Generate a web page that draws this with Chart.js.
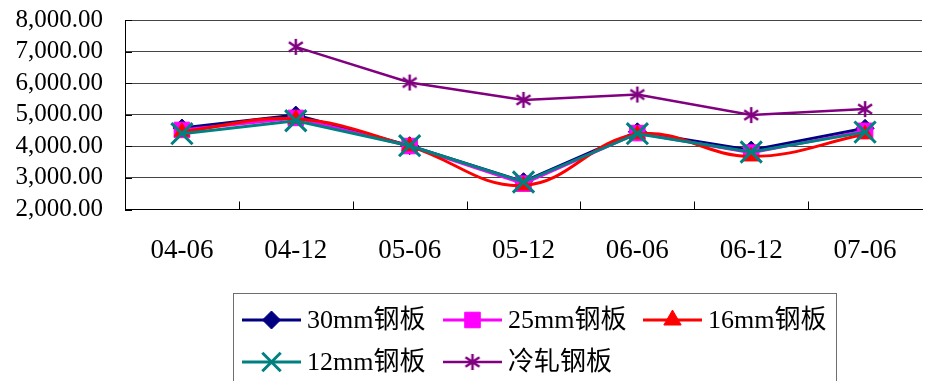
<!DOCTYPE html>
<html>
<head>
<meta charset="utf-8">
<script src="https://cdn.jsdelivr.net/npm/chart.js@4/dist/chart.umd.min.js"></script>
<style>
  html, body { margin: 0; padding: 0; background: #fff; overflow: hidden; width: 931px; height: 381px; }
  canvas { display: block; }
</style>
</head>
<body>
<canvas id="c" width="940" height="381"></canvas>
<script>
// Period labels (year-month)
const categories = ['04-06', '04-12', '05-06', '05-12', '06-06', '06-12', '07-06'];

// Prices per series
const plate30mm = [4580, 4990, 4020, 2880, 4460, 3880, 4570];
const plate25mm = [4520, 4900, 4010, 2820, 4420, 3800, 4490];
const plate16mm = [4460, 4870, 4000, 2760, 4380, 3680, 4380];
const plate12mm = [4400, 4810, 4020, 2870, 4400, 3820, 4450];
const coldRolled = [null, 7150, 6020, 5470, 5640, 4990, 5180];

// Series names
const seriesNames = ['30mm钢板', '25mm钢板', '16mm钢板', '12mm钢板', '冷轧钢板'];

// Value axis range
const yMin = 2000, yMax = 8000, yStep = 1000;

const FONT_FAMILY = "'Liberation Serif', 'Noto Sans CJK SC', serif";

// Six-armed asterisk marker (X plus a vertical bar)
function makeAsterisk(color, size, lw) {
  const c = document.createElement('canvas');
  c.width = size; c.height = size;
  const g = c.getContext('2d');
  g.strokeStyle = color; g.lineWidth = lw; g.lineCap = 'butt';
  const m = size / 2, r = size / 2 - 1;
  g.beginPath();
  g.moveTo(m, m - r); g.lineTo(m, m + r);
  const dx = r * 0.87, dy = r * 0.6;
  g.moveTo(m - dx, m - dy); g.lineTo(m + dx, m + dy);
  g.moveTo(m - dx, m + dy); g.lineTo(m + dx, m - dy);
  g.stroke();
  return c;
}
const asterisk = makeAsterisk('#800080', 18, 2.5);

// Short inner tick marks on both axes
const innerTicks = {
  id: 'innerTicks',
  afterDatasetsDraw(chart) {
    const { ctx, chartArea, scales } = chart;
    ctx.save();
    ctx.strokeStyle = '#000';
    ctx.lineWidth = 1;
    ctx.beginPath();
    for (let v = yMin; v <= yMax; v += yStep) {
      const y = Math.round(scales.y.getPixelForValue(v)) + 0.5;
      ctx.moveTo(chartArea.left, y); ctx.lineTo(chartArea.left + 7, y);
    }
    for (let i = 1; i < categories.length; i++) {
      const x = Math.round((scales.x.getPixelForValue(i - 1) + scales.x.getPixelForValue(i)) / 2) + 0.5;
      ctx.moveTo(x, chartArea.bottom); ctx.lineTo(x, chartArea.bottom - 8);
    }
    ctx.stroke();
    ctx.restore();
  }
};

// Boxed legend in three columns, line sample with marker
const boxLegend = {
  id: 'boxLegend',
  afterDraw(chart) {
    const ctx = chart.ctx;
    ctx.save();
    ctx.strokeStyle = '#6e6e6e';
    ctx.lineWidth = 1;
    ctx.strokeRect(233.5, 293.5, 603, 120);
    const cols = [242, 443, 643];
    const rows = [320, 362];
    chart.data.datasets.forEach((ds, i) => {
      const x = cols[i % 3];
      const y = rows[Math.floor(i / 3)];
      ctx.strokeStyle = ds.borderColor;
      ctx.lineWidth = ds.borderWidth;
      ctx.beginPath();
      ctx.moveTo(x, y); ctx.lineTo(x + 59, y);
      ctx.stroke();
      ctx.fillStyle = ds.pointBackgroundColor;
      ctx.strokeStyle = ds.pointBorderColor;
      ctx.lineWidth = ds.pointBorderWidth;
      Chart.helpers.drawPoint(ctx, {
        pointStyle: ds.pointStyle,
        radius: ds.legendRadius || ds.pointRadius,
        rotation: 0,
        borderWidth: ds.pointBorderWidth
      }, x + 29.5, y);
      ctx.fillStyle = '#000';
      ctx.font = '26px ' + FONT_FAMILY;
      ctx.textBaseline = 'middle';
      ctx.textAlign = 'left';
      ctx.fillText(ds.label, x + 65, y + 1);
    });
    ctx.restore();
  }
};

function series(label, data, color, style, radius, extra) {
  return Object.assign({
    label, data,
    borderColor: color,
    backgroundColor: color,
    borderWidth: 3,
    pointStyle: style,
    pointRadius: radius,
    pointHoverRadius: radius,
    pointBackgroundColor: color,
    pointBorderColor: color,
    pointBorderWidth: 1,
    tension: 0,
    spanGaps: false
  }, extra || {});
}

new Chart(document.getElementById('c'), {
  type: 'line',
  data: {
    labels: categories,
    datasets: [
      series(seriesNames[0], plate30mm, '#000080', 'rectRot', 9, { order: 4 }),
      series(seriesNames[1], plate25mm, '#FF00FF', 'rect', 11, { order: 3 }),
      series(seriesNames[2], plate16mm, '#FF0000', 'triangle', 9, { order: 2, tension: 0.4, legendRadius: 10 }),
      series(seriesNames[3], plate12mm, '#008080', 'crossRot', 15, { order: 1, pointBorderWidth: 3, legendRadius: 13 }),
      series(seriesNames[4], coldRolled, '#800080', asterisk, 9, { order: 0, borderWidth: 2.5, pointBorderWidth: 2.5 })
    ]
  },
  options: {
    responsive: false,
    animation: false,
    events: [],
    layout: { padding: { top: 20, right: 4, left: 0, bottom: 0 } },
    plugins: { legend: { display: false }, tooltip: { enabled: false } },
    scales: {
      x: {
        offset: true,
        grid: { display: false, drawTicks: false },
        border: { display: true, color: '#000', width: 1 },
        ticks: {
          color: '#000',
          padding: 25,
          font: { family: FONT_FAMILY, size: 27 },
          maxRotation: 0,
          autoSkip: false
        },
        afterFit(s) { s.height = 171.5; s.paddingLeft = 0; s.paddingRight = 0; }
      },
      y: {
        min: yMin, max: yMax,
        grid: { color: '#444', lineWidth: 1, drawTicks: false },
        border: { display: true, color: '#000', width: 1 },
        ticks: {
          stepSize: yStep,
          autoSkip: false,
          color: '#000',
          padding: 22,
          font: { family: FONT_FAMILY, size: 25 },
          callback: v => v.toLocaleString('en-US', { minimumFractionDigits: 2, maximumFractionDigits: 2 })
        },
        afterFit(s) { s.width = 125; s.paddingTop = 0; s.paddingBottom = 0; }
      }
    }
  },
  plugins: [innerTicks, boxLegend]
});
</script>
</body>
</html>
